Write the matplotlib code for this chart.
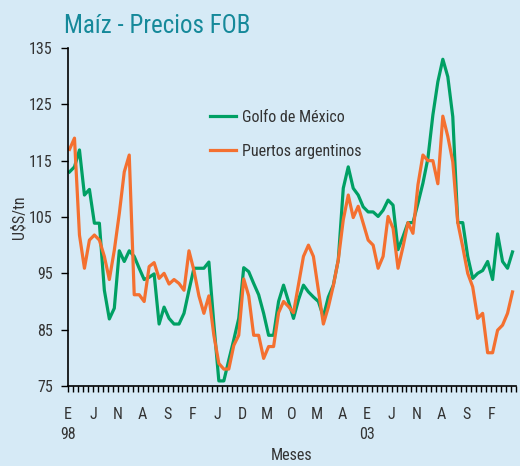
import numpy as np
import matplotlib
matplotlib.use("Agg")
import matplotlib.pyplot as plt
from matplotlib import font_manager

# precios FOB mensuales, ene-98 a jun-05 (U$S/tn)
golfo = [113.0, 113.9, 116.9, 108.9, 109.9, 103.9, 103.9, 92.0, 86.9, 88.8,
         99.0, 97.1, 99.0, 98.0, 95.9, 93.9, 94.3, 94.9, 86.0, 89.0,
         87.0, 86.0, 86.0, 87.9, 92.0, 95.9, 95.9, 95.9, 97.0, 86.0,
         75.9, 75.9, 79.6, 83.2, 87.0, 96.0, 95.3, 93.2, 91.2, 87.9,
         84.0, 84.0, 90.0, 92.9, 90.0, 87.0, 90.3, 92.9, 91.7, 90.8,
         90.0, 87.3, 90.8, 92.9, 97.4, 110.1, 113.9, 110.1, 108.9, 106.8,
         105.9, 105.9, 105.1, 106.2, 108.0, 107.1, 99.2, 101.5, 104.0, 104.0,
         107.4, 111.0, 115.4, 123.1, 129.0, 133.0, 129.9, 122.8, 104.0, 104.0,
         98.0, 94.1, 95.0, 95.5, 97.1, 93.9, 102.0, 97.1, 95.9, 98.8]

puertos = [117.0, 119.0, 101.8, 95.9, 100.9, 101.8, 100.9, 98.0, 93.9, 99.1,
           105.6, 113.0, 116.0, 91.2, 91.2, 90.0, 96.2, 96.9, 94.1, 95.0,
           93.1, 93.9, 93.2, 92.0, 99.0, 95.5, 91.0, 87.9, 91.0, 84.0,
           79.0, 78.0, 78.0, 82.2, 84.0, 94.0, 91.0, 84.0, 84.0, 79.9,
           82.0, 82.0, 88.0, 90.0, 89.1, 88.0, 93.0, 98.0, 100.0, 98.0,
           92.0, 86.0, 89.0, 92.8, 97.4, 104.5, 108.9, 104.9, 106.9, 103.9,
           100.9, 100.0, 95.9, 98.0, 105.1, 103.0, 95.9, 99.7, 104.0, 102.1,
           110.7, 116.0, 115.0, 115.0, 110.9, 122.9, 119.3, 114.8, 104.0, 99.7,
           95.0, 92.6, 87.0, 87.9, 80.9, 80.9, 84.9, 85.8, 87.9, 91.7]

meses = ['E\n98', 'J', 'N', 'A', 'S', 'F', 'J', 'D', 'M', 'O', 'M', 'A',
         'E\n03', 'J', 'N', 'A', 'S', 'F']

fondo = '#d6eaf6'
verde = '#00a064'
naranja = '#f47030'
texto = '#333333'

# fuente angosta, la primera que haya
instaladas = {f.name for f in font_manager.fontManager.ttflist}
fuente = 'DejaVu Sans'
for nombre in ['Liberation Sans Narrow', 'DejaVu Sans Condensed', 'Roboto Condensed', 'Roboto']:
    if nombre in instaladas:
        fuente = nombre
        break
plt.rcParams['font.family'] = [fuente, 'DejaVu Sans']

tam = 11.5

fig = plt.figure(figsize=(5.2, 4.66), dpi=100, facecolor=fondo)
ax = fig.add_axes([0.1308, 0.1717, 0.8615, 0.7253], facecolor=fondo)

x = np.arange(len(golfo)) + 0.3
ax.plot(x, golfo, color=verde, lw=2.3, label='Golfo de México')
ax.plot(x, puertos, color=naranja, lw=2.3, label='Puertos argentinos')

ax.set_xlim(0, 90)
ax.set_ylim(75, 135)
ax.set_yticks(np.arange(75, 136, 10))
ax.set_xticks(np.arange(0, 90, 5))
ax.set_xticklabels(meses, linespacing=1.45, va='top')
ax.set_xticks(np.arange(0, 91), minor=True)

for s in ['top', 'right']:
    ax.spines[s].set_visible(False)
for s in ['left', 'bottom']:
    ax.spines[s].set_linewidth(1.2)

ax.tick_params(axis='x', which='both', length=4, width=1, direction='out',
               labelsize=tam, labelcolor=texto, pad=11)
ax.tick_params(axis='y', length=5, width=1, labelsize=tam, labelcolor=texto, pad=6)

ax.set_xlabel('Meses', fontsize=tam, color=texto, labelpad=4)
ax.set_ylabel('U$S/tn', fontsize=tam, color=texto, labelpad=2)

ax.legend(loc='upper left', bbox_to_anchor=(0.285, 0.86), frameon=False,
          fontsize=tam, labelcolor=texto, handlelength=1.6, handletextpad=0.4,
          labelspacing=1.2)

fig.text(0.123, 0.945, 'Maíz - Precios FOB', fontsize=18, color='#15899a',
         va='center', ha='left')

plt.savefig('out.png', dpi=100, facecolor=fondo)
